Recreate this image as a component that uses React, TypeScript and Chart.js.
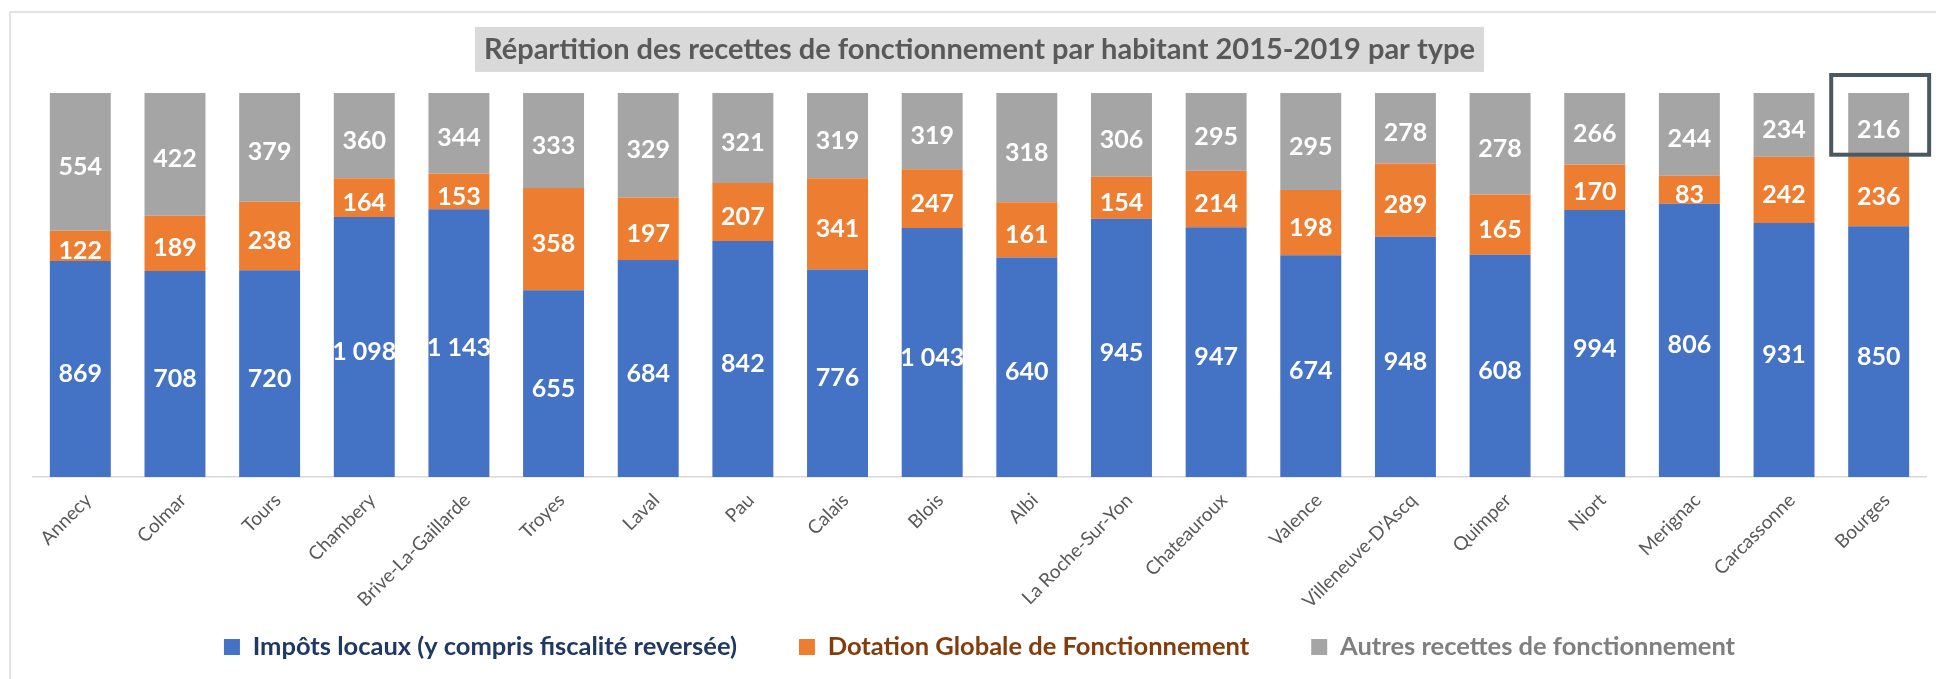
import React, { useEffect, useRef } from 'react';
import { Chart, registerables } from 'chart.js';

Chart.register(...registerables);

const cities = [
  'Annecy', 'Colmar', 'Tours', 'Chambery', 'Brive-La-Gaillarde', 'Troyes', 'Laval', 'Pau', 'Calais', 'Blois',
  'Albi', 'La Roche-Sur-Yon', 'Chateauroux', 'Valence', "Villeneuve-D'Ascq", 'Quimper', 'Niort', 'Merignac',
  'Carcassonne', 'Bourges',
];
const impotsLocaux = [869, 708, 720, 1098, 1143, 655, 684, 842, 776, 1043, 640, 945, 947, 674, 948, 608, 994, 806, 931, 850];
const dotationGlobale = [122, 189, 238, 164, 153, 358, 197, 207, 341, 247, 161, 154, 214, 198, 289, 165, 170, 83, 242, 236];
const autresRecettes = [554, 422, 379, 360, 344, 333, 329, 321, 319, 319, 318, 306, 295, 295, 278, 278, 266, 244, 234, 216];

const seriesLabels = [
  'Impôts locaux (y compris fiscalité reversée)',
  'Dotation Globale de Fonctionnement',
  'Autres recettes de fonctionnement',
];
const seriesValues = [impotsLocaux, dotationGlobale, autresRecettes];
const seriesColors = ['#4472C4', '#ED7D31', '#A5A5A5'];
const legendTextColors = ['#203864', '#843C0C', '#7F7F7F'];
const titleText = 'Répartition des recettes de fonctionnement par habitant 2015-2019 par type';
const highlightCity = 'Bourges';

const totals = cities.map((_, i) => seriesValues.reduce((s, arr) => s + arr[i], 0));
const toShare = (arr: number[]) => arr.map((v, i) => (v / totals[i]) * 100);
const fmt = (v: number) => String(v).replace(/\B(?=(\d{3})+(?!\d))/g, ' ');

const TITLE_FONT = { family: 'Lato', size: 29, weight: 'bold' as const };

const backgroundPlugin = {
  id: 'bgFrame',
  afterLayout(chart: any) {
    const s = chart.scales.x;
    if (s) {
      // let rotated tick labels extend below the (fixed-height) axis box
      s._computeLabelArea = () => ({ top: s.top, left: 0, bottom: chart.height, right: chart.width });
    }
  },
  beforeDraw(chart: any) {
    const { ctx, width, height } = chart;
    ctx.save();
    ctx.fillStyle = '#FFFFFF';
    ctx.fillRect(0, 0, width, height);
    ctx.strokeStyle = '#D9D9D9';
    ctx.lineWidth = 1.5;
    ctx.strokeRect(10, 12, width + 20, height + 20);
    const tb = chart.titleBlock;
    if (tb) {
      ctx.font = `bold ${TITLE_FONT.size}px ${TITLE_FONT.family}`;
      const w = ctx.measureText(titleText).width;
      const cx = (tb.left + tb.right) / 2;
      const pad = tb.options.padding;
      const cy = tb.top + pad.top + (TITLE_FONT.size * 1.2) / 2;
      ctx.fillStyle = '#D9D9D9';
      ctx.fillRect(cx - w / 2 - 9, cy - 22.5, w + 18, 45);
    }
    ctx.restore();
  },
};

const dataLabelPlugin = {
  id: 'segLabels',
  afterDatasetsDraw(chart: any) {
    const { ctx } = chart;
    ctx.save();
    ctx.font = 'bold 25px Lato';
    ctx.fillStyle = '#FFFFFF';
    ctx.textAlign = 'center';
    ctx.textBaseline = 'middle';
    chart.data.datasets.forEach((ds: any, di: number) => {
      const meta = chart.getDatasetMeta(di);
      meta.data.forEach((el: any, i: number) => {
        const y = (el.y + el.base) / 2 + 5;
        ctx.fillText(fmt(ds.rawValues[i]), el.x, y);
      });
    });
    const idx = cities.indexOf(highlightCity);
    const meta = chart.getDatasetMeta(2);
    const el: any = meta.data[idx];
    if (el) {
      ctx.strokeStyle = '#4A5862';
      ctx.lineWidth = 4;
      const left = el.x - el.width / 2 - 17;
      const right = el.x + el.width / 2 + 20;
      const top = el.y - 18;
      const bottom = el.base - 2;
      ctx.strokeRect(left, top, right - left, bottom - top);
    }
    ctx.restore();
  },
};

export default function App() {
  const ref = useRef<HTMLCanvasElement>(null);

  useEffect(() => {
    document.body.style.margin = '0';
    const canvas = ref.current!;
    const chart = new Chart(canvas, {
      type: 'bar',
      data: {
        labels: cities,
        datasets: seriesValues.map((vals, i) => ({
          label: seriesLabels[i],
          data: toShare(vals),
          rawValues: vals,
          backgroundColor: seriesColors[i],
          borderWidth: 0,
          barPercentage: 0.644,
          categoryPercentage: 1,
        })) as any,
      },
      options: {
        responsive: false,
        animation: false,
        layout: { padding: { left: 33, right: 10, top: 0, bottom: 9.25 } },
        scales: {
          x: {
            stacked: true,
            grid: { display: false },
            border: { display: true, color: '#D9D9D9', width: 1.5 },
            ticks: {
              autoSkip: false,
              minRotation: 45,
              maxRotation: 45,
              padding: 4,
              labelOffset: 8,
              color: '#595959',
              font: { family: 'Lato', size: 19 },
            },
            afterFit: (scale: any) => {
              scale.height = 95.25;
              scale.paddingLeft = 0;
              scale.paddingRight = 0;
            },
          },
          y: {
            stacked: true,
            display: false,
            min: 0,
            max: 100,
          },
        },
        plugins: {
          title: {
            display: true,
            text: titleText,
            color: '#595959',
            font: TITLE_FONT,
            padding: { top: 32, bottom: 26.2 },
          },
          legend: {
            position: 'bottom',
            labels: {
              boxWidth: 16,
              boxHeight: 16,
              padding: 62,
              font: { family: 'Lato', size: 25.5, weight: 'bold' },
              generateLabels: (ch: any) => {
                const base = Chart.defaults.plugins.legend.labels.generateLabels(ch);
                return base.map((item: any, i: number) => ({
                  ...item,
                  fontColor: legendTextColors[i],
                  lineWidth: 0,
                  strokeStyle: 'transparent',
                }));
              },
            },
          },
          tooltip: { enabled: false },
        },
      },
      plugins: [backgroundPlugin, dataLabelPlugin],
    });
    return () => chart.destroy();
  }, []);

  return (
    <div style={{ width: 1936, height: 679 }}>
      <canvas ref={ref} width={1936} height={679} style={{ display: 'block' }} />
    </div>
  );
}
